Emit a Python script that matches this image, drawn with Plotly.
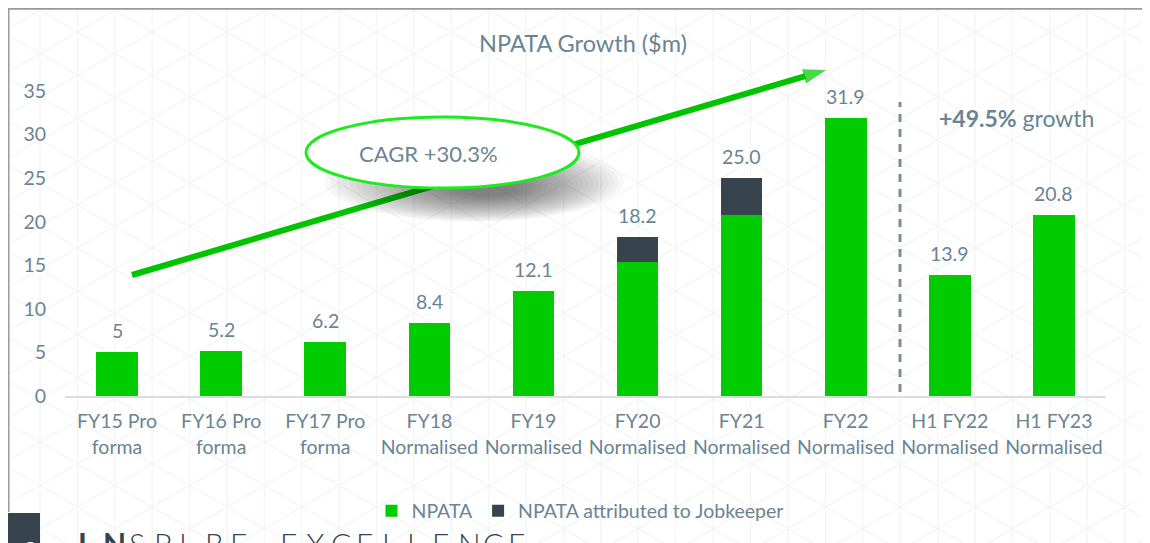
import plotly.graph_objects as go
import math

# ---------------- data ----------------
categories = ["FY15 Pro<br>forma", "FY16 Pro<br>forma", "FY17 Pro<br>forma",
              "FY18<br>Normalised", "FY19<br>Normalised", "FY20<br>Normalised",
              "FY21<br>Normalised", "FY22<br>Normalised", "H1 FY22<br>Normalised",
              "H1 FY23<br>Normalised"]
npata = [5.0, 5.2, 6.2, 8.4, 12.1, 15.4, 20.8, 31.9, 13.9, 20.8]
jobkeeper = [0, 0, 0, 0, 0, 2.8, 4.2, 0, 0, 0]
total_labels = ["5", "5.2", "6.2", "8.4", "12.1", "18.2", "25.0", "31.9", "13.9", "20.8"]
y_ticks = [0, 5, 10, 15, 20, 25, 30, 35]
cagr_text = "CAGR +30.3%"
growth_text = "<b>+49.5%</b> growth"

# ---------------- style / geometry (screen pixels) ----------------
W, H = 1150, 543
OFF = 8  # page body margin offset
PL, PR, PT, PB = 65, 1106, 60, 396  # plot area in screen px
YMAX = (PB - PT) / ((396 - 91) / 35)
GREEN = "#00CC00"
DARK = "#37444E"
TXT = "#6B8493"
FONT = "Lato"

ML = PL - OFF
MT = PT - OFF
MR = W - (PR - OFF)
MB = H - (PB - OFF)
PW, PH = PR - PL, PB - PT


def px_x(px):  # screen pixel -> data x
    return (px - PL) / PW * 10 - 0.5


def px_y(py):  # screen pixel -> data y
    return (PB - py) / PH * YMAX


def pap_x(px):
    return (px - PL) / PW


def pap_y(py):
    return (PB - py) / PH


xs = list(range(len(categories)))
totals = [a + b for a, b in zip(npata, jobkeeper)]

fig = go.Figure()

fig.add_trace(go.Bar(x=xs, y=npata, name="NPATA", marker=dict(color=GREEN, line=dict(width=0)),
                     width=0.4))
fig.add_trace(go.Bar(x=xs, y=jobkeeper, name="NPATA attributed to Jobkeeper",
                     marker=dict(color=DARK, line=dict(width=0)), width=0.4))

# CAGR arrow (line with arrowhead marker)
ax0, ay0 = px_x(132), px_y(275)
ax1, ay1 = px_x(826), px_y(70)
fig.add_trace(go.Scatter(x=[ax0, ax1], y=[ay0, ay1], mode="lines+markers",
                         line=dict(color="#00C400", width=6),
                         marker=dict(symbol="arrow", size=[0, 24], angleref="previous",
                                     color="#00C400", line=dict(width=0)),
                         showlegend=False, hoverinfo="skip"))

shapes = []
# background lattice
LAT = "#f4f5f6"
sp = 37.4
k = 0
while 2.6 + sp * k < W + 5:
    x = 2.6 + sp * k
    if x > OFF:
        shapes.append(dict(type="line", xref="paper", yref="paper", layer="below",
                           x0=pap_x(x), x1=pap_x(x), y0=pap_y(OFF), y1=pap_y(H + 10),
                           line=dict(color=LAT, width=1.3)))
    k += 1
t30 = math.tan(math.radians(30))
dy = 2 * sp * t30
for sgn in (1, -1):
    for m in range(-40, 40):
        c = 32 + dy * m
        y0 = c + sgn * t30 * (OFF - 975)
        y1 = c + sgn * t30 * (W + 10 - 975)
        if max(y0, y1) < 0 or min(y0, y1) > H:
            continue
        shapes.append(dict(type="line", xref="paper", yref="paper", layer="below",
                           x0=pap_x(OFF), x1=pap_x(W + 10), y0=pap_y(y0), y1=pap_y(y1),
                           line=dict(color=LAT, width=1.3)))

# frame lines
shapes.append(dict(type="line", xref="paper", yref="paper", x0=pap_x(OFF), x1=pap_x(W + 10),
                   y0=pap_y(OFF + 0.8), y1=pap_y(OFF + 0.8), line=dict(color="#9a9a9a", width=2)))
shapes.append(dict(type="line", xref="paper", yref="paper", x0=pap_x(OFF + 0.8), x1=pap_x(OFF + 0.8),
                   y0=pap_y(OFF), y1=pap_y(512), line=dict(color="#9a9a9a", width=1.5)))
# page number box
shapes.append(dict(type="rect", xref="paper", yref="paper", x0=pap_x(OFF - 2), x1=pap_x(40),
                   y0=pap_y(513), y1=pap_y(560), fillcolor=DARK, line=dict(width=0)))

# dashed divider
shapes.append(dict(type="line", xref="x", yref="y", x0=px_x(900), x1=px_x(900),
                   y0=px_y(392), y1=px_y(102),
                   line=dict(color="#7A8F9C", width=3, dash="8px,7px")))

# ellipse shadow (soft, many faint layers)
N_SH = 22
for i in range(N_SH):
    f = 1 - i * 0.038
    cx, cy = 474 + i * 0.6, 182 + i * 0.3
    rx, ry = 150 * f, 40 * f
    shapes.append(dict(type="circle", xref="x", yref="y",
                       x0=px_x(cx - rx), x1=px_x(cx + rx), y0=px_y(cy + ry), y1=px_y(cy - ry),
                       fillcolor="rgba(0,0,0,0.026)", line=dict(width=0)))
# ellipse
shapes.append(dict(type="circle", xref="x", yref="y",
                   x0=px_x(306), x1=px_x(579), y0=px_y(188), y1=px_y(117),
                   fillcolor="white", line=dict(color="#1EEA1E", width=3)))

annotations = []
for i, (t, lab) in enumerate(zip(totals, total_labels)):
    annotations.append(dict(x=i, y=t, text=lab, showarrow=False, yanchor="bottom", yshift=8,
                            font=dict(family=FONT, size=19.5, color=TXT)))
annotations.append(dict(x=px_x(428), y=px_y(153), text=cagr_text, showarrow=False,
                        font=dict(family=FONT, size=22, color=TXT)))
annotations.append(dict(x=px_x(1016), y=px_y(118), text=growth_text, showarrow=False,
                        font=dict(family=FONT, size=23, color=TXT)))
# page number
annotations.append(dict(xref="paper", yref="paper", x=pap_x(22), y=pap_y(533), text="8",
                        showarrow=False, yanchor="top",
                        font=dict(family=FONT, size=22, color="white")))
# footer wordmark
word = "INSPIRE EXCELLENCE"
for i, ch in enumerate(word):
    if ch == " ":
        continue
    annotations.append(dict(xref="paper", yref="paper", x=pap_x(76 + 25.3 * i), y=pap_y(523),
                            text=("<b>%s</b>" % ch) if i < 2 else ch, showarrow=False,
                            xanchor="left", yanchor="top",
                            font=dict(family=FONT, size=30, color=DARK, weight=300 if i >= 2 else 700)))

fig.update_layout(
    width=W, height=H,
    margin=dict(l=ML, r=MR, t=MT, b=MB),
    paper_bgcolor="white", plot_bgcolor="rgba(0,0,0,0)",
    barmode="stack", bargap=0.6,
    font=dict(family=FONT, size=19.5, color=TXT),
    title=dict(text="NPATA Growth ($m)", x=(583 - OFF) / W, xanchor="center",
               y=1 - (44 - OFF) / H, yanchor="middle",
               font=dict(family=FONT, size=23.5, color=TXT)),
    xaxis=dict(range=[-0.5, 9.5], tickmode="array", tickvals=xs, ticktext=categories,
               showgrid=False, zeroline=False, showline=True, linecolor="#D9DDE0", linewidth=2,
               ticks="", tickfont=dict(family=FONT, size=19.5, color=TXT), ticklabelstandoff=7),
    yaxis=dict(range=[0, YMAX], tickmode="array", tickvals=y_ticks, showgrid=False,
               zeroline=False, showline=False, ticks="",
               tickfont=dict(family=FONT, size=19.5, color=TXT), ticklabelstandoff=18),
    legend=dict(orientation="h", x=pap_x(580), xanchor="center", y=pap_y(511), yanchor="middle",
                font=dict(family=FONT, size=19.5, color=TXT), bgcolor="rgba(0,0,0,0)",
                traceorder="normal"),
    shapes=shapes,
    annotations=annotations,
)

fig.write_html("out.html")
